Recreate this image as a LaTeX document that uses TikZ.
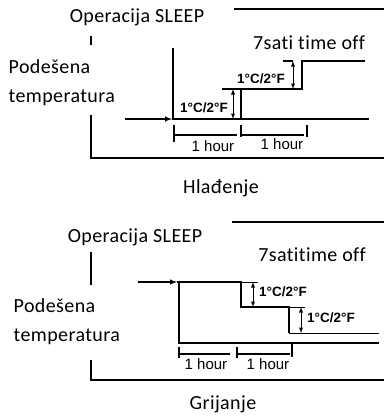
\documentclass[tikz,border=0pt]{standalone}
\usepackage{fontspec}
\setmainfont{Carlito}[Ligatures=NoCommon, LetterSpace=2]
\newfontfamily\arialfont{Liberation Sans}
\usepackage{tikz}
\tikzset{
  lbl/.style={inner sep=0pt, font=\fontsize{20}{22}\selectfont},
  dimlbl/.style={inner sep=0pt, font=\arialfont\bfseries\fontsize{13.5}{15}\selectfont},
  hourlbl/.style={inner sep=0pt, font=\arialfont\fontsize{15}{17}\selectfont},
  thick line/.style={line width=1.4pt},
}
\begin{document}
\begin{tikzpicture}[x=1pt, y=-1pt, thick line]
	\useasboundingbox (0,0) rectangle (384,416);
	\draw[black] (234,9)--(384,9);
	\node[lbl] (op1) at (137,17) {Operacija SLEEP};
	\node[lbl] (off1) at (309,43) {7sati time off};
	\node[lbl, anchor=west] (pod1) at (8,67) {Podešena};
	\node[lbl, anchor=west] (tem1) at (8,98) {temperatura};
	\draw[black] (91,36)--(91,45);
	\draw[black] (91,115)--(91,158)--(384,158);
	\draw[black] (173,48)--(173,119)--(369,119);
	\draw[black, -latex] (125,119)--(172,119);
	\draw[black] (241,119)--(241,89);
	\draw[black] (222,89)--(302,89)--(302,61)--(365,61);
	\draw[black] (283,61)--(293,61);
	\draw[black, line width=0.9pt, latex-latex] (233,89)--(233,119);
	\draw[black, line width=0.9pt, latex-latex] (293,61)--(293,89);
	\node[dimlbl] (d1) at (204,108) {1°C/2°F};
	\node[dimlbl] (d2) at (261,79) {1°C/2°F};
	\draw[black] (174,125)--(174,142);
	\draw[black] (174,135)--(237,135);
	\draw[black] (241,125)--(241,137);
	\draw[black] (241,135)--(304,135);
	\draw[black] (307,125)--(307,137);
	\node[hourlbl] (h1) at (213,146) {1 hour};
	\node[hourlbl] (h2) at (282,144) {1 hour};
	\node[lbl] (cool) at (221,188) {Hlađenje};
	\draw[black] (232,222)--(384,222);
	\node[lbl] (op2) at (135,237) {Operacija SLEEP};
	\node[lbl] (off2) at (312,255) {7satitime off};
	\node[lbl, anchor=west] (pod2) at (13,306) {Podešena};
	\node[lbl, anchor=west] (tem2) at (13,337) {temperatura};
	\draw[black] (91,252)--(91,285);
	\draw[black] (91,360)--(91,380)--(384,380);
	\draw[black, -latex] (138,282)--(177,282);
	\draw[black] (177,282)--(241,282)--(241,307)--(289,307)--(289,333);
	\draw[black, line width=0.8pt] (289,333)--(379,333);
	\draw[black, line width=0.8pt] (241,282)--(258,282);
	\draw[black, line width=0.8pt] (289,307)--(305,307);
	\draw[black, line width=0.9pt, latex-latex] (253,282)--(253,307);
	\draw[black, line width=0.9pt, latex-latex] (301,307)--(301,333);
	\node[dimlbl] (d3) at (283,292) {1°C/2°F};
	\node[dimlbl] (d4) at (331,318) {1°C/2°F};
	\draw[black] (179,282)--(179,343)--(379,343);
	\draw[black] (179,347)--(179,358);
	\draw[black] (179,354)--(230,354);
	\draw[black] (237,347)--(237,358);
	\draw[black] (237,354)--(290,354);
	\draw[black] (292,343)--(292,357);
	\node[hourlbl] (h3) at (206,364) {1 hour};
	\node[hourlbl] (h4) at (268,364) {1 hour};
	\node[lbl] (heat) at (223,404) {Grijanje};
\end{tikzpicture}
\end{document}
